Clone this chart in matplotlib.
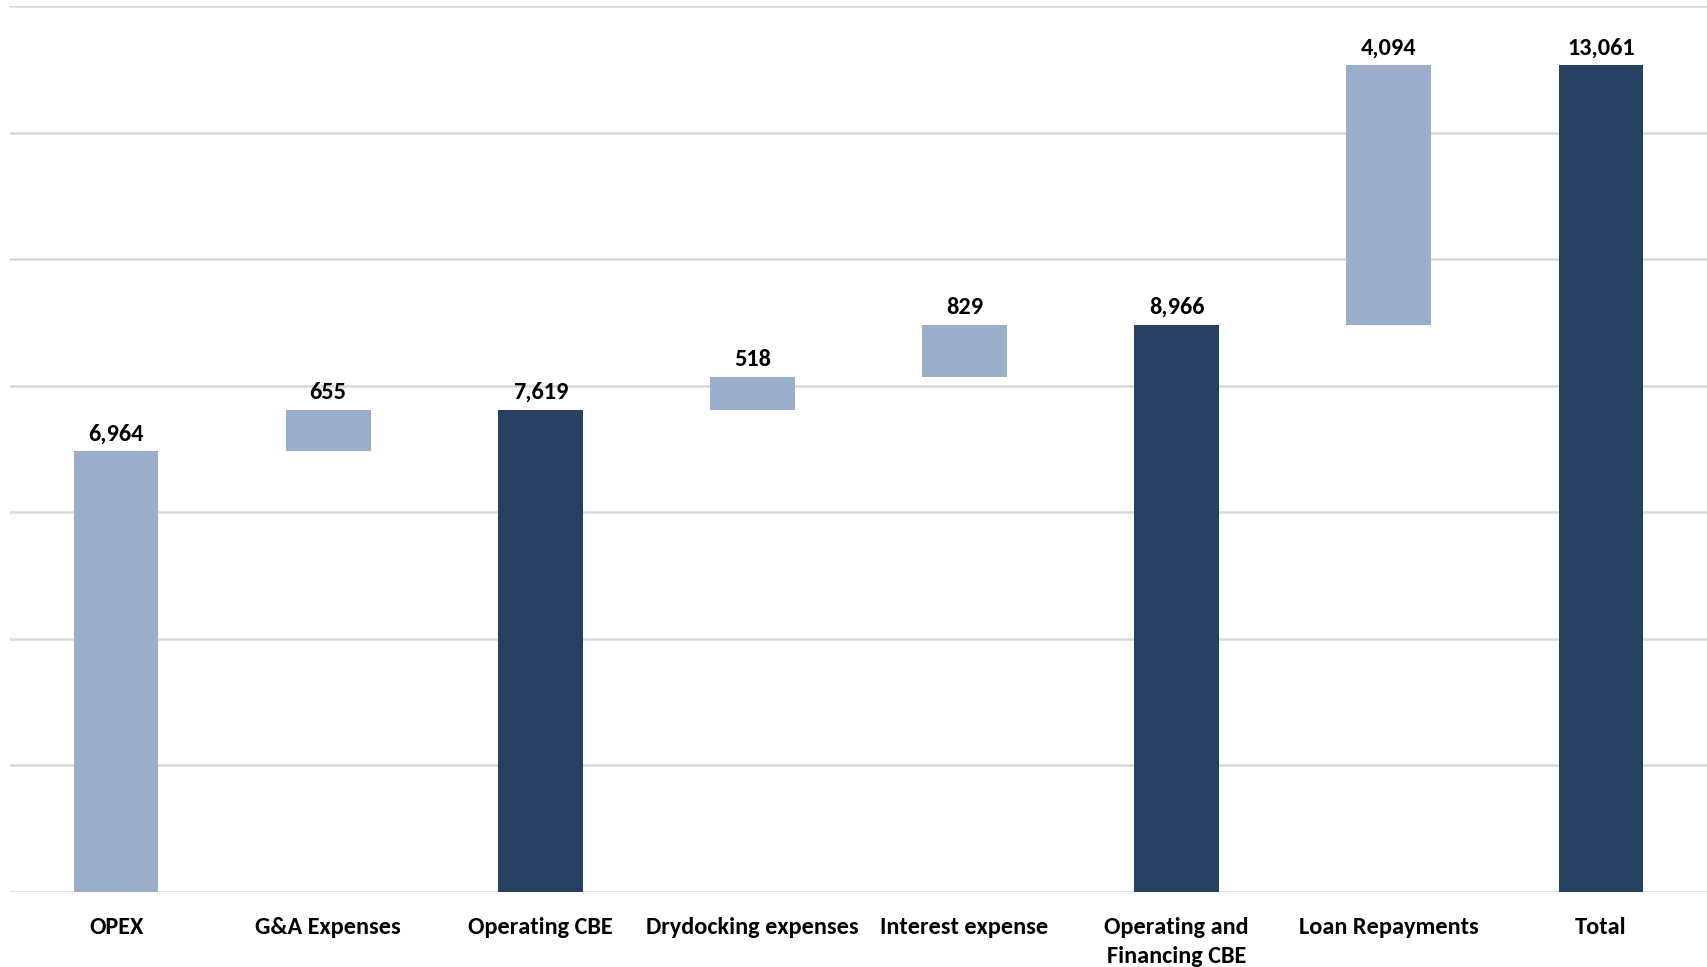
import numpy as np
import matplotlib.pyplot as plt

plt.rcParams['font.family'] = ['Carlito', 'Lato', 'DejaVu Sans']

categories = ['OPEX', 'G&A Expenses', 'Operating CBE', 'Drydocking expenses',
              'Interest expense', 'Operating and\nFinancing CBE', 'Loan Repayments', 'Total']
values = [6964, 655, 7619, 518, 829, 8966, 4094, 13061]
is_total = [False, False, True, False, False, True, False, True]

LIGHT = '#9aadcb'
DARK = '#264061'


def waterfall_bottoms(values, is_total):
    bottoms = []
    running = 0
    for v, tot in zip(values, is_total):
        if tot:
            bottoms.append(0)
            running = v
        else:
            bottoms.append(running)
            running += v
    return bottoms


def main():
    fig = plt.figure(figsize=(17.07, 9.67), dpi=100)
    ax = fig.add_axes([10 / 1707, 1 - 892 / 967, 1697 / 1707, 886 / 967])

    x = np.arange(len(categories))
    bottoms = waterfall_bottoms(values, is_total)
    colors = [DARK if t else LIGHT for t in is_total]

    ax.bar(x, values, bottom=bottoms, width=0.4, color=colors, zorder=3)

    for xi, v, b in zip(x, values, bottoms):
        ax.text(xi, b + v + 110, f'{v:,}', ha='center', va='bottom',
                fontsize=17.5, fontweight='bold', color='black')

    ax.set_xlim(-0.5, len(categories) - 0.5)
    ax.set_ylim(0, 14000)
    ax.set_yticks(np.arange(0, 14001, 2000))
    ax.set_yticklabels([])
    ax.tick_params(axis='y', length=0)
    ax.tick_params(axis='x', length=0, pad=18)
    ax.set_xticks(x)
    ax.set_xticklabels(categories, fontsize=17.5, fontweight='bold', va='top',
                       linespacing=1.45)

    ax.grid(axis='y', color='#d9d9d9', linewidth=1.8, zorder=0)
    for s in ax.spines.values():
        s.set_visible(False)

    fig.savefig('out.png', dpi=100)


if __name__ == '__main__':
    main()
